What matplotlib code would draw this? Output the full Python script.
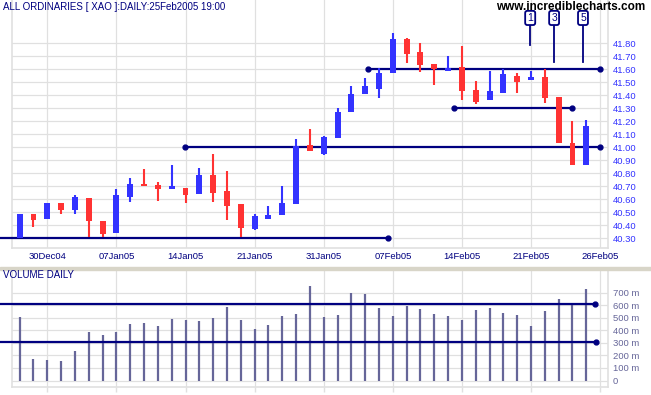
import matplotlib
matplotlib.use("Agg")
import matplotlib.pyplot as plt
import numpy as np

plt.rcParams['font.family'] = ['Liberation Sans', 'DejaVu Sans']

# daily candles, one per trading day (index 0 = first bar on chart)
opens = [40.30, 40.49, 40.45, 40.57, 40.52, 40.61, 40.43, 40.34, 40.62, 40.72,
         40.71, 40.68, 40.69, 40.64, 40.79, 40.66, 40.56, 40.37, 40.45, 40.48,
         40.56, 41.02, 40.95, 41.07, 41.27, 41.41, 41.45, 41.57, 41.83, 41.73,
         41.64, 41.59, 41.62, 41.44, 41.36, 41.42, 41.55, 41.52, 41.54, 41.39,
         41.03, 40.86]
highs = [40.49, 40.49, 40.57, 40.57, 40.63, 40.61, 40.43, 40.68, 40.76, 40.83,
         40.73, 40.86, 40.69, 40.84, 40.95, 40.82, 40.56, 40.49, 40.55, 40.70,
         41.06, 41.14, 41.09, 41.30, 41.47, 41.53, 41.61, 41.88, 41.84, 41.80,
         41.64, 41.70, 41.78, 41.51, 41.59, 41.60, 41.57, 41.59, 41.60, 41.39,
         41.20, 41.21]
lows = [40.30, 40.39, 40.45, 40.49, 40.49, 40.31, 40.31, 40.34, 40.58, 40.70,
        40.59, 40.68, 40.57, 40.64, 40.58, 40.44, 40.31, 40.36, 40.45, 40.48,
        40.56, 40.97, 40.94, 41.07, 41.27, 41.41, 41.38, 41.57, 41.65, 41.58,
        41.48, 41.59, 41.36, 41.33, 41.36, 41.42, 41.42, 41.52, 41.34, 41.03,
        40.86, 40.86]
closes = [40.49, 40.44, 40.57, 40.52, 40.62, 40.43, 40.33, 40.63, 40.72, 40.70,
          40.68, 40.70, 40.63, 40.79, 40.65, 40.55, 40.38, 40.47, 40.48, 40.57,
          41.01, 40.97, 41.08, 41.27, 41.41, 41.47, 41.57, 41.83, 41.72, 41.63,
          41.60, 41.61, 41.43, 41.35, 41.43, 41.56, 41.50, 41.54, 41.38, 41.03,
          40.86, 41.16]
# volume in millions
volumes = [503, 171, 163, 155, 235, 386, 360, 386, 449, 457,
           434, 489, 481, 471, 497, 585, 481, 410, 441, 513,
           529, 752, 503, 521, 696, 688, 577, 513, 593, 569,
           529, 513, 481, 561, 577, 539, 521, 434, 553, 648,
           611, 728]

tick_pos = [2, 7, 12, 17, 22, 27, 32, 37, 42]
tick_labels = ['30Dec04', '07Jan05', '14Jan05', '21Jan05', '31Jan05',
               '07Feb05', '14Feb05', '21Feb05', '26Feb05']

# support / resistance lines: (level, start index, end index, dot at start)
price_lines = [(41.60, 25.23, 42.0, True), (41.30, 31.45, 40.0, True),
               (41.00, 11.96, 42.0, True), (40.30, -1.42, 26.67, False)]
vol_lines = [(610, -1.42, 41.65), (305, -1.42, 41.7)]

# count markers
marker_labels = ['1', '3', '5']
marker_x = [36.94, 38.67, 40.76]
marker_end = [41.79, 41.654, 41.654]

navy = '#000080'
blue = '#3333ff'
red = '#ff3333'
grid_c = '#e0e0e0'
vol_c = '#666699'

fig = plt.figure(figsize=(6.51, 3.95), dpi=100)
ax = fig.add_axes([12.3 / 651, 1 - 248.3 / 395, 595.7 / 651, 248.3 / 395])
axv = fig.add_axes([12.3 / 651, 1 - 386.7 / 395, 595.7 / 651, 116.7 / 395])

xlim = (-0.533, 42.57)
idx = np.arange(len(opens))

# ---- price panel
ax.set_xlim(*xlim)
ax.set_ylim(40.223, 42.133)
price_ticks = np.round(np.arange(40.3, 41.81, 0.1), 2)
ax.set_yticks(price_ticks)
ax.set_yticklabels(['%.2f' % p for p in price_ticks])
ax.yaxis.tick_right()
ax.set_xticks(tick_pos)
ax.set_xticklabels(tick_labels)
ax.tick_params(axis='y', length=0, pad=3.4, labelsize=6.8, labelcolor=blue)
ax.tick_params(axis='x', length=0, pad=3.0, labelsize=6.8, labelcolor=navy)
ax.grid(True, color=grid_c, lw=0.9)
ax.set_axisbelow(True)
for s in ax.spines.values():
    s.set_color(grid_c)
    s.set_linewidth(1.2)
ax.spines['top'].set_visible(False)

for lvl, x0, x1, dot0 in price_lines:
    ax.plot([x0, x1], [lvl, lvl], color=navy, lw=1.6, zorder=3, clip_on=False,
            solid_capstyle='butt')
    ax.plot([x1], [lvl], 'o', color=navy, ms=3.5, zorder=3, clip_on=False)
    if dot0:
        ax.plot([x0], [lvl], 'o', color=navy, ms=3.5, zorder=3)

for i in idx:
    up = closes[i] >= opens[i]
    col = blue if up else red
    ax.vlines(i, lows[i], highs[i], color=col, lw=1.5, zorder=4)
    lo = min(opens[i], closes[i])
    h = max(abs(closes[i] - opens[i]), 0.015)
    ax.bar(i, h, bottom=lo, width=0.43, color=col, zorder=5, lw=0)

for lab, mx, me in zip(marker_labels, marker_x, marker_end):
    ax.plot([mx, mx], [41.954, me], color=navy, lw=1.3, zorder=3)
    ax.text(mx, 41.995, lab, ha='center', va='center', fontsize=7.5, color=navy,
            zorder=6, bbox=dict(boxstyle='round,pad=0.2', fc='white', ec=navy, lw=1.3))

fig.text(3 / 651, 1 - 6.5 / 395, 'ALL ORDINARIES [ XAO ]:DAILY:25Feb2005 19:00',
         ha='left', va='center', fontsize=7, color=navy)
fig.text(645 / 651, 1 - 7 / 395, 'www.incrediblecharts.com', ha='right', va='center',
         fontsize=8.5, fontweight='bold', color='black')

# separator band between panels
fig.patches.append(plt.Rectangle((0, 1 - 269.5 / 395), 1, 2.5 / 395,
                                 transform=fig.transFigure, color='#d8d5c8', zorder=0))

# ---- volume panel
axv.set_xlim(*xlim)
axv.set_ylim(-49, 879)
axv.vlines(idx, 0, volumes, color=vol_c, lw=1.6, zorder=3)
vol_ticks = np.arange(0, 701, 100)
axv.set_yticks(vol_ticks)
axv.set_yticklabels(['0'] + ['%d m' % v for v in vol_ticks[1:]])
axv.yaxis.tick_right()
axv.set_xticks(tick_pos)
axv.set_xticklabels([])
axv.tick_params(axis='y', length=0, pad=3.4, labelsize=6.8, labelcolor=vol_c)
axv.tick_params(axis='x', length=3.5, color=grid_c, width=1)
axv.grid(True, color=grid_c, lw=0.9)
axv.set_axisbelow(True)
for s in axv.spines.values():
    s.set_color(grid_c)
    s.set_linewidth(1.2)
axv.spines['top'].set_visible(False)

for lvl, x0, x1 in vol_lines:
    axv.plot([x0, x1], [lvl, lvl], color=navy, lw=1.6, zorder=4, clip_on=False,
             solid_capstyle='butt')
    axv.plot([x1], [lvl], 'o', color=navy, ms=3.5, zorder=4)

fig.text(3 / 651, 1 - 275 / 395, 'VOLUME DAILY', ha='left', va='center',
         fontsize=7, color=navy)

fig.savefig('out.png', dpi=100)
